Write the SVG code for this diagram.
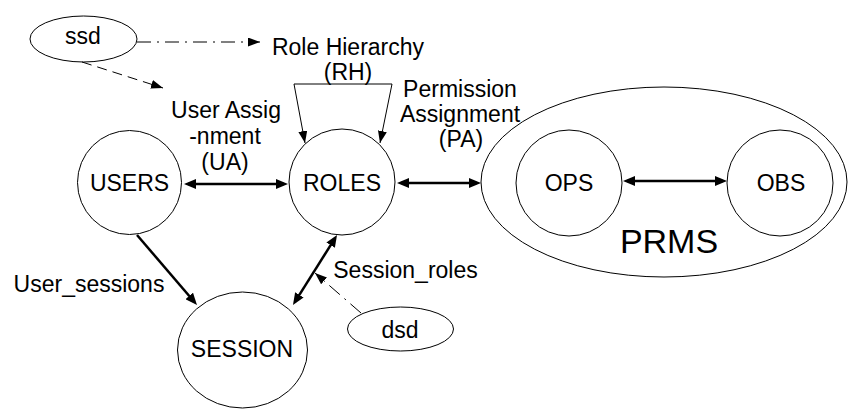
<svg xmlns="http://www.w3.org/2000/svg" width="848" height="409" viewBox="0 0 848 409">
<style>
.n{fill:#fff;stroke:#000;stroke-width:1}
.t{font-family:"Liberation Sans",Arial,sans-serif;font-size:23px;fill:#000;text-anchor:middle}
.thin{fill:none;stroke:#000;stroke-width:1}
.thick{fill:none;stroke:#000;stroke-width:2.5}
</style>
<defs>
<marker id="ah" markerUnits="userSpaceOnUse" markerWidth="12" markerHeight="9" refX="12" refY="4.5" orient="auto-start-reverse"><path d="M0,0 L12,4.5 L0,9 z" fill="#000"/></marker>
<marker id="ahb" markerUnits="userSpaceOnUse" markerWidth="12" markerHeight="10" refX="8" refY="5" orient="auto-start-reverse"><path d="M0,0 L12,5 L0,10 z" fill="#000"/></marker>
</defs>
<g id="prms"><ellipse class="n" cx="664" cy="182" rx="183" ry="95"/><text class="t" x="669" y="253" style="font-size:34px">PRMS</text></g>
<g id="ssd"><ellipse class="n" cx="83.5" cy="39" rx="53.5" ry="23"/><text class="t" x="83" y="44">ssd</text></g>
<g id="dsd"><ellipse class="n" cx="400.5" cy="329" rx="53" ry="22"/><text class="t" x="400" y="338">dsd</text></g>
<g id="users"><circle class="n" cx="129.5" cy="182.5" r="52"/><text class="t" x="129.5" y="191">USERS</text></g>
<g id="roles"><circle class="n" cx="342" cy="182" r="53"/><text class="t" x="342" y="191">ROLES</text></g>
<g id="session"><ellipse class="n" cx="242.5" cy="350" rx="65" ry="58"/><text class="t" x="242" y="357">SESSION</text></g>
<g id="ops"><circle class="n" cx="569" cy="183" r="53"/><text class="t" x="569" y="191">OPS</text></g>
<g id="obs"><circle class="n" cx="780" cy="183" r="53"/><text class="t" x="781" y="191">OBS</text></g>
<g id="connectors">
<line class="thick" x1="188" y1="184" x2="284" y2="184" marker-start="url(#ahb)" marker-end="url(#ahb)"/>
<line class="thick" x1="401" y1="183" x2="477" y2="183" marker-start="url(#ahb)" marker-end="url(#ahb)"/>
<line class="thick" x1="627" y1="181" x2="723" y2="181" marker-start="url(#ahb)" marker-end="url(#ahb)"/>
<line class="thick" x1="137" y1="235" x2="194.4" y2="302" marker-end="url(#ahb)"/>
<line class="thick" x1="295.1" y1="301.6" x2="334.9" y2="238.4" marker-start="url(#ahb)" marker-end="url(#ahb)"/>
<path class="thin" d="M305,143 L294,84 L392,84 L380,143" marker-start="url(#ah)" marker-end="url(#ah)"/>
<line class="thin" x1="137" y1="42" x2="260" y2="42" stroke-dasharray="14,6,2,6" marker-end="url(#ah)"/>
<line class="thin" x1="82" y1="62" x2="163" y2="88" stroke-dasharray="10,6" marker-end="url(#ah)"/>
<line class="thin" x1="361" y1="313" x2="315" y2="273" stroke-dasharray="14,6,2,6" marker-end="url(#ah)"/>
</g>
<g id="labels">
<text class="t" x="348" y="55">Role Hierarchy</text>
<text class="t" x="348" y="80">(RH)</text>
<text class="t" x="460" y="97">Permission</text>
<text class="t" x="460" y="122">Assignment</text>
<text class="t" x="461" y="147">(PA)</text>
<text class="t" x="226" y="118">User Assig</text>
<text class="t" x="225" y="144">-nment</text>
<text class="t" x="225" y="170">(UA)</text>
<text class="t" x="89" y="292">User_sessions</text>
<text class="t" x="405.5" y="278">Session_roles</text>
</g>
</svg>
